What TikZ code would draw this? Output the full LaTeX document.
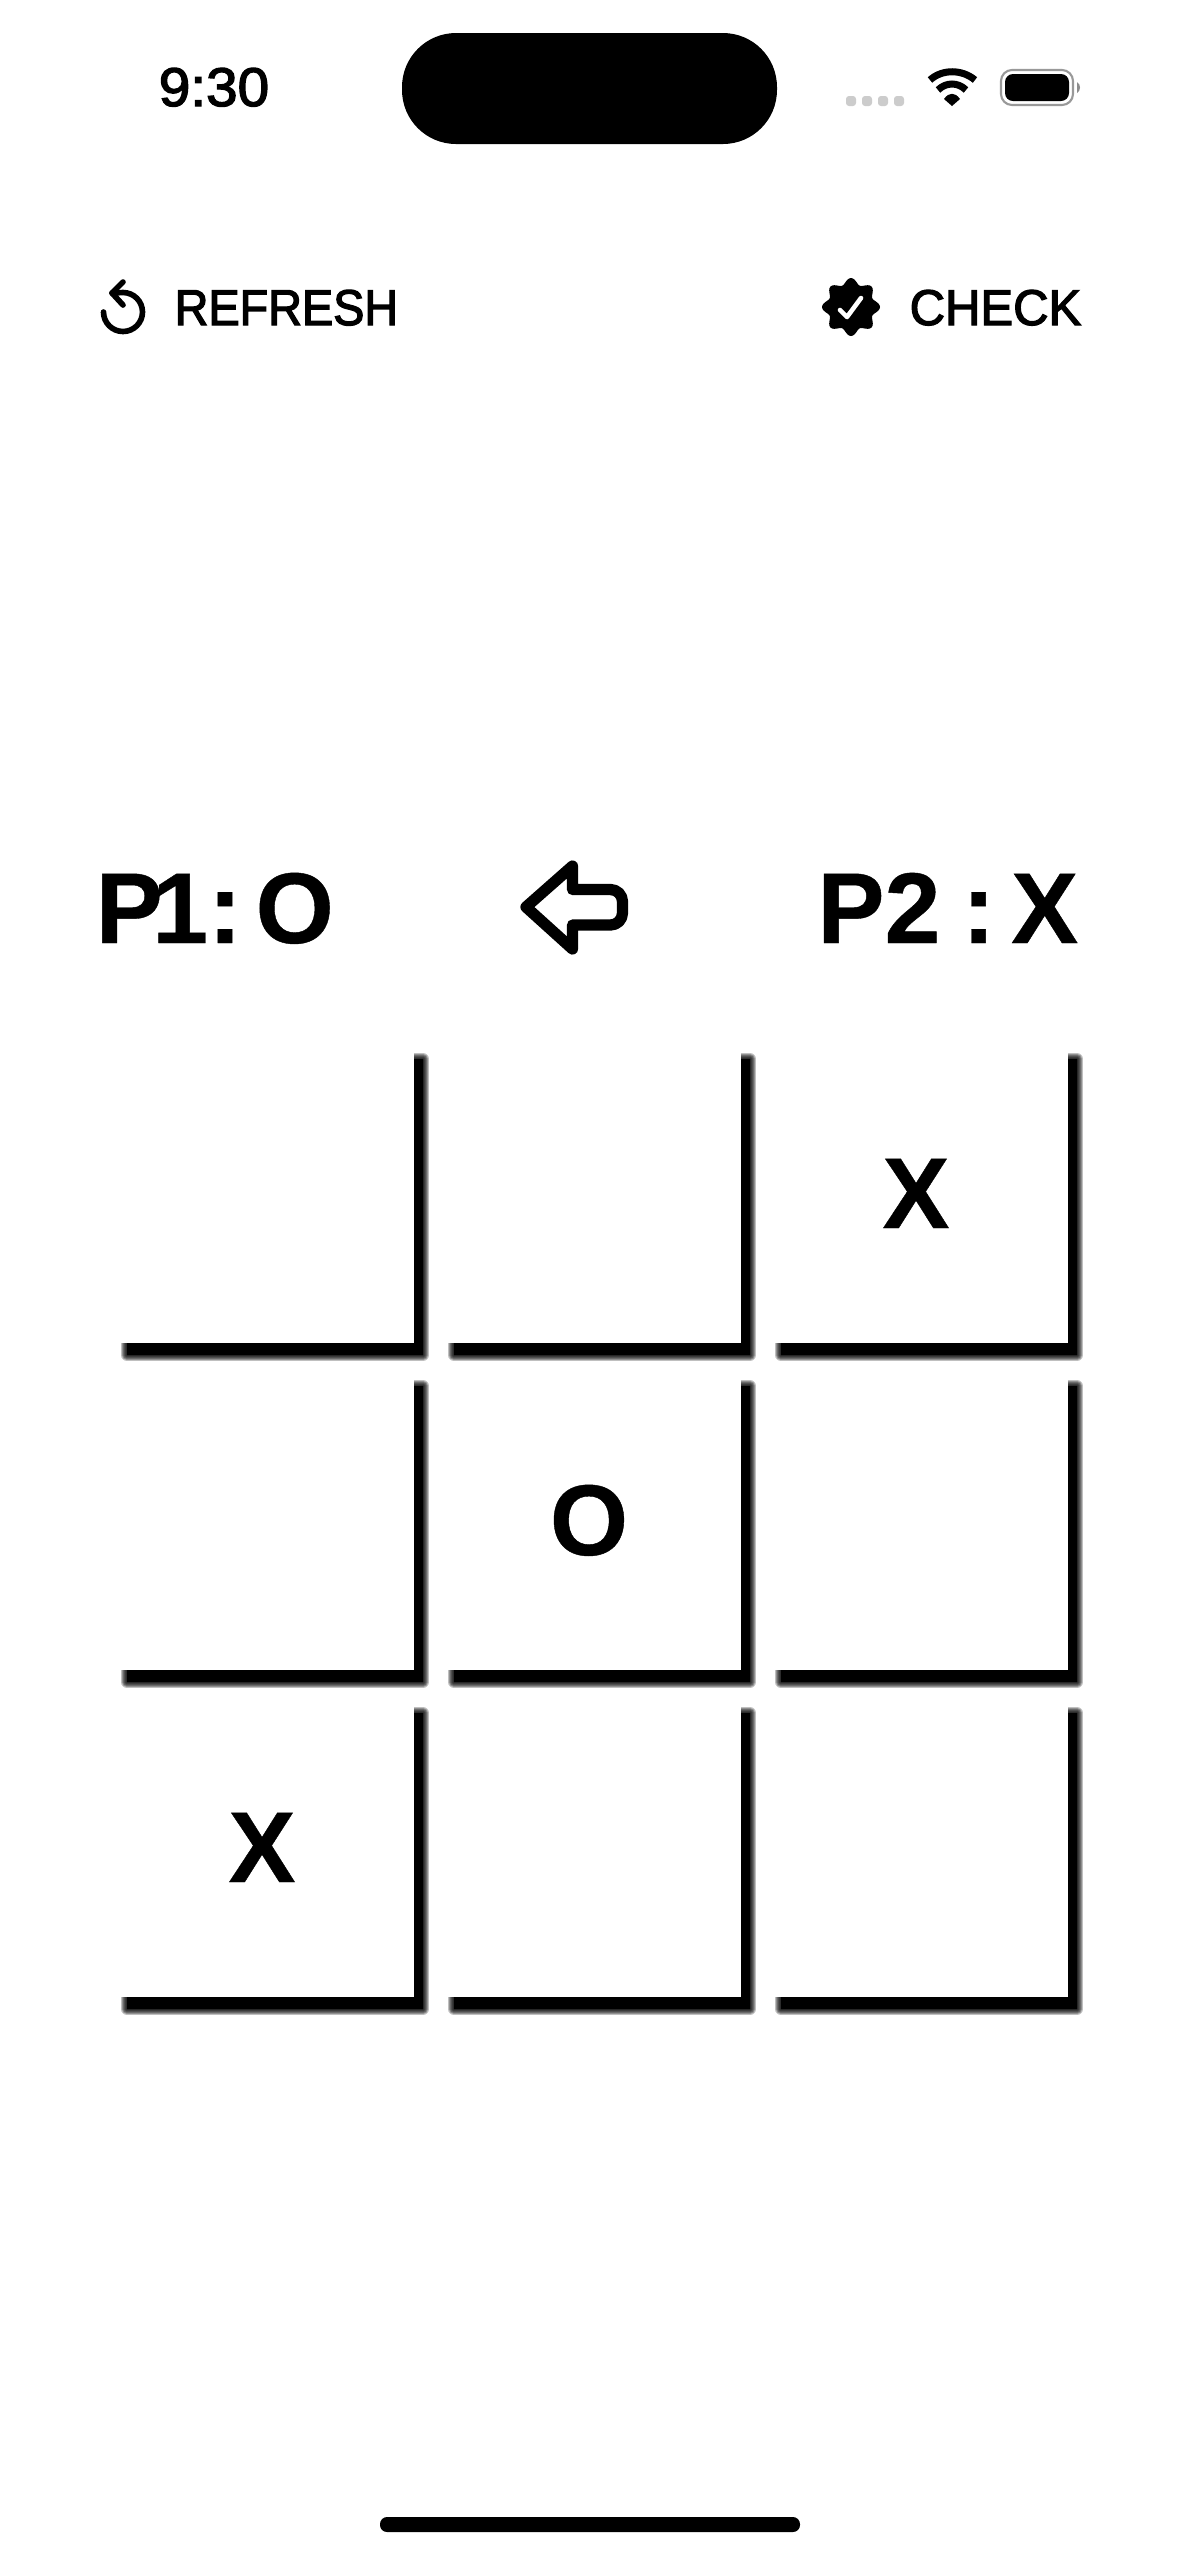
\documentclass[tikz,border=0pt]{standalone}
\usepackage{fontspec}
\setmainfont{Liberation Sans}
\newfontfamily\markfont[FakeBold=0.4]{Liberation Sans Bold}
\newfontfamily\menufont[FakeStretch=0.93,FakeBold=2.5]{Liberation Sans}
\newfontfamily\checkfont[FakeStretch=0.975,FakeBold=2.5]{Liberation Sans}
\newfontfamily\clockfont[FakeStretch=1.04,FakeBold=2.5]{Liberation Sans}
\usetikzlibrary{positioning}
\newcommand{\celledge}{(127,1343) -- (414,1343) -- (414,1059) -- (423,1059) -- (423,1355) -- (127,1355) -- cycle}
\tikzset{
  marktext/.style={font=\fontsize{28.6}{28.6}\selectfont\markfont, inner sep=0pt},
  menutext/.style={font=\fontsize{14.3}{14.3}\selectfont\menufont, inner sep=0pt},
  iconline/.style={line width=1.6pt, line cap=round, line join=round}
}

\begin{document}
\begin{tikzpicture}[x=0.01cm, y=-0.01cm]
    \useasboundingbox (0,0) rectangle (1179,2556);
    \fill[white] (0,0) rectangle (1179,2556);

    % Status bar
    \node[font=\fontsize{15.5}{15.5}\selectfont\clockfont, inner sep=0pt, anchor=base] (clock) at (214,106) {9:30};
    \fill[black, rounded corners=0.54cm] (402,33) rectangle (777,144);
    \foreach \i in {0,1,2,3}
        \fill[black!20, rounded corners=0.03cm] (846+\i*16,96) rectangle +(10,10);
    \fill[black] (952,106) -- (944,99) .. controls (949,92) and (955,92) .. (960,99) -- cycle;
    \draw[line width=2pt] (938,90) .. controls (946,82) and (958,82) .. (966,90);
    \draw[line width=2pt] (930,80) .. controls (942,69) and (962,69) .. (975,80);
    \draw[black!40, line width=0.6pt, rounded corners=0.11cm] (1001,70) rectangle (1073,105);
    \fill[black, rounded corners=0.08cm] (1005,74) rectangle (1069,101);
    \fill[black!45] (1077,82) .. controls (1081,84) and (1081,91) .. (1077,93) -- cycle;

    % Top menu
    \draw[iconline] (103.5,312) arc (180:-90:19.5) -- (112,293);
    \draw[iconline] (123,282) -- (112,293) -- (123,305);
    \node[menutext, anchor=base west] (refresh) at (174,325) {REFRESH};
    \node[menutext, font=\fontsize{14.3}{14.3}\selectfont\checkfont, anchor=base east] (check) at (1082,325) {CHECK};

    % Badge with tick
    \fill[black, shift={(851,307)}] plot[domain=0:360, samples=97] (\x:{26+3*cos(8*\x)}) -- cycle;
    \draw[white, line width=1.3pt, line cap=round, line join=round] (840,310) -- (847,317) -- (861,298);

    % Players
    \node[marktext, anchor=base west] (pone) at (95,943) {P\kern-3pt 1:\hspace{4pt}O};
    \node[marktext, anchor=base east] (ptwo) at (1079,943) {P2\hspace{6.1pt}:\hspace{4.5pt}X};
    \draw[line width=3.2pt, line cap=round, line join=round] (572.5,866) -- (526,907) -- (572.5,949) -- (572.5,925)
        [rounded corners=0.12cm] -- (622.5,925) -- (622.5,889.5) [sharp corners] -- (572.5,889.5) -- cycle;

    % Board
    \foreach \row in {0,1,2}
        \foreach \col in {0,1,2} {
            \begin{scope}[shift={(\col*327,\row*327)}]
                \foreach \w in {12,10,8,6,4,2}
                    \draw[line width=\w*0.2845pt, opacity=0.25, line join=round] \celledge;
                \fill[black] \celledge;
                \fill[white] (116,1046) rectangle (414,1343);
            \end{scope}
        }

    % Marks
    \node[marktext, anchor=base] (topright) at (916,1228) {X};
    \node[marktext, anchor=base] (center) at (589,1555) {O};
    \node[marktext, anchor=base] (bottomleft) at (262,1882) {X};

    % Home bar
    \fill[black, rounded corners=0.07cm] (380,2517) rectangle (800,2532);
\end{tikzpicture}
\end{document}
